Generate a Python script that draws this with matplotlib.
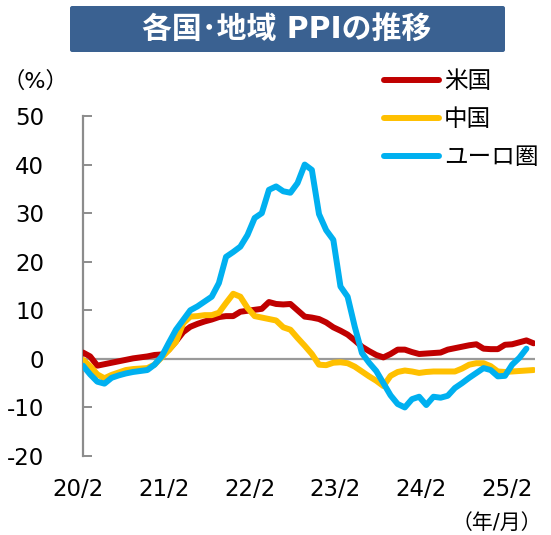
import matplotlib
matplotlib.use("Agg")
import matplotlib.pyplot as plt
import matplotlib.transforms as mtransforms
from matplotlib.patches import FancyBboxPatch
import numpy as np

plt.rcParams['font.family'] = ['DejaVu Sans', 'Noto Sans CJK JP']

# 前年比 (%)、2020/2 から月次
us = [1.3, 0.5, -1.4, -1.1, -0.8, -0.5, -0.2, 0.1, 0.3, 0.5, 0.8, 0.9,
      1.9, 3.6, 5.5, 6.6, 7.2, 7.7, 8.1, 8.6, 8.8, 8.8, 9.7, 9.9,
      10.1, 10.3, 11.7, 11.3, 11.2, 11.3, 10.0, 8.7, 8.5, 8.2, 7.5, 6.5,
      5.8, 5.0, 3.8, 2.5, 1.6, 0.8, 0.3, 1.0, 1.9, 1.9, 1.4, 1.0,
      1.1, 1.2, 1.3, 1.9, 2.2, 2.5, 2.8, 3.0, 2.1, 2.0, 2.0, 2.9,
      3.0, 3.4, 3.8, 3.2]
china = [-0.2, -1.5, -3.2, -4.0, -3.3, -2.8, -2.3, -2.1, -2.0, -1.9, -1.2, 0.3,
         1.8, 3.5, 7.3, 8.7, 8.8, 9.0, 9.0, 9.5, 11.5, 13.4, 12.8, 10.5,
         8.8, 8.5, 8.2, 7.9, 6.5, 6.0, 4.3, 2.7, 1.0, -1.2, -1.3, -0.8,
         -0.7, -0.9, -1.6, -2.6, -3.6, -4.5, -5.6, -3.5, -2.7, -2.4, -2.6, -2.9,
         -2.7, -2.6, -2.6, -2.6, -2.6, -2.0, -1.2, -0.9, -0.9, -1.5, -2.6, -2.7,
         -2.6, -2.5, -2.4, -2.3]
euro = [-1.4, -3.2, -4.7, -5.1, -3.9, -3.4, -3.0, -2.7, -2.5, -2.3, -1.2, 0.5,
        3.3, 6.0, 8.0, 10.0, 10.8, 11.8, 12.8, 15.6, 21.0, 22.0, 23.1, 25.5,
        29.0, 30.0, 34.8, 35.5, 34.5, 34.2, 36.2, 40.0, 38.9, 29.8, 26.5, 24.5,
        14.9, 12.8, 6.6, 1.2, -0.8, -2.5, -5.0, -7.5, -9.3, -10.0, -8.3, -7.8,
        -9.5, -7.8, -8.0, -7.6, -6.0, -5.0, -3.9, -2.9, -1.9, -2.3, -3.6, -3.5,
        -1.2, 0.2, 2.1]

series_names = ['米国', '中国', 'ユーロ圏']
series_colors = ['#C00000', '#FFC000', '#00B0F0']
xlabels = ['20/2', '21/2', '22/2', '23/2', '24/2', '25/2']
yticks = [-20, -10, 0, 10, 20, 30, 40, 50]

W, H = 551, 535
fig = plt.figure(figsize=(W / 100, H / 100), dpi=100)
ax = fig.add_axes([83 / W, 1 - 456 / H, (535 - 83) / W, (456 - 116) / H])

for vals, name, col in zip([us, china, euro], series_names, series_colors):
    ax.plot(np.arange(len(vals)), vals, color=col, lw=4.3, label=name,
            solid_capstyle='round', solid_joinstyle='round', zorder=3)

ax.axhline(0, color='#9a9a9a', lw=1.6, zorder=2)

ax.set_xlim(0, 63.2)
ax.set_ylim(-20, 50)
ax.set_yticks(yticks)
ax.set_yticklabels([str(v) for v in yticks])
ax.set_xticks(np.arange(len(xlabels)) * 12)
ax.set_xticklabels(xlabels)

for s in ['top', 'right', 'bottom']:
    ax.spines[s].set_visible(False)
ax.spines['left'].set_color('#8c8c8c')
ax.spines['left'].set_linewidth(1.6)
ax.tick_params(axis='y', direction='in', length=6.5, width=1.4, color='#8c8c8c',
               pad=28, labelsize=16.5)
ax.tick_params(axis='x', length=0, pad=16, labelsize=16.5)
offset = mtransforms.ScaledTranslation(-5 / 100, 0, fig.dpi_scale_trans)
for lab in ax.get_xticklabels():
    lab.set_transform(lab.get_transform() + offset)

# タイトル
box = FancyBboxPatch((70 / W, 1 - 52 / H), 435 / W, 46 / H,
                     boxstyle='round,pad=0,rounding_size=0.004',
                     transform=fig.transFigure, facecolor='#3A6191',
                     edgecolor='none')
fig.add_artist(box)
fig.text(287 / W, 1 - 29 / H, '各国･地域 PPIの推移', ha='center', va='center',
         color='white', fontsize=21.5, fontweight='bold')

fig.text(2 / W, 1 - 81 / H, '（%）', ha='left', va='center', fontsize=16)
fig.text(452 / W, 1 - 523 / H, '（年/月）', ha='left', va='center', fontsize=15)

fig.legend(loc='upper left', bbox_to_anchor=(384 / W, 1 - 69 / H),
           frameon=False, fontsize=17, handlelength=2.35, handletextpad=0.2,
           labelspacing=0.6, borderpad=0, borderaxespad=0)

fig.savefig('out.png', dpi=100)
